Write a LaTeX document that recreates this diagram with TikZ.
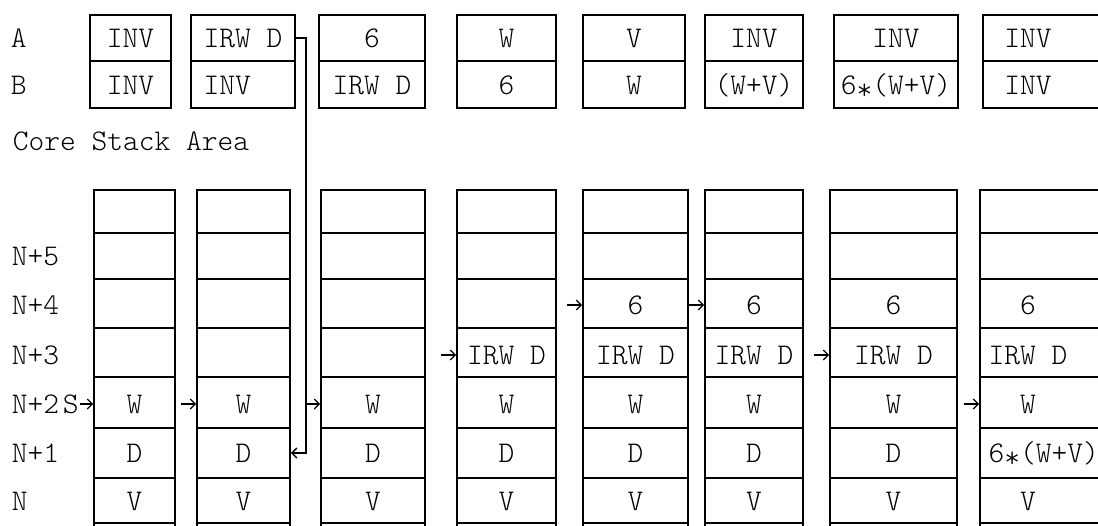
\documentclass[tikz,border=0pt]{standalone}
\usepackage{tikz}
\usetikzlibrary{calc, positioning, arrows.meta}

\newcommand{\mulsym}{\raisebox{-0.4ex}{*}}

\tikzset{
  cell/.style={inner sep=0pt, minimum height=20pt, text height=9pt, text depth=0pt},
  lbl/.style={inner sep=0pt, anchor=west, text height=9pt, text depth=0pt},
  ptr/.style={-{Straight Barb[length=2.5pt, width=5pt]}, line width=0.6pt},
}

\begin{document}
\begin{tikzpicture}[x=0.5pt, y=-0.5pt, line width=0.9pt, font=\fontsize{15}{18}\ttfamily\fontseries{l}\selectfont]
  \useasboundingbox (0,0) rectangle (1098,525);
  \clip (0,0) rectangle (1098,525);

  % registers A and B
  \node[lbl] (regA) at (10,38) {A};
  \node[lbl] (regB) at (10,85) {B};
  \foreach \l/\r/\e/\ta/\tb [count=\i] in {90/171/171/INV/INV, 191/295/295/IRW D/INV\phantom{ D}, 319/425/425/6/IRW D, 457/556/556/W/6, 583/685/685/V/W, 705/803/803/INV/(W+V), 834/958/958/INV/6\mulsym(W+V), 983/1073/1140/INV/INV} {
    \draw (\l,15) rectangle (\e,108);
    \draw (\l,61) -- (\e,61);
    \node[cell, minimum width=(\r-\l)*0.5pt] (a\i) at ({(\l+\r)/2},38) {\ta};
    \node[cell, minimum width=(\r-\l)*0.5pt] (b\i) at ({(\l+\r)/2},85) {\tb};
  }

  % core stack
  \node[lbl] (core) at (12,141) {Core Stack Area};
  \foreach \t/\y [count=\k from 0] in {N/501, N+1/453, N+2/404, N+3/355, N+4/305, N+5/256}
    \node[lbl] (r\k) at (11,\y) {\t};
  \node[lbl, right=1pt of r2] (sp) {S};

  \foreach \l/\r/\e/\cells [count=\i] in {94/175/175/{V,D,W}, 197/290/290/{V,D,W}, 321/425/425/{V,D,W}, 457/556/556/{V,D,W,IRW D}, 583/688/688/{V,D,W,IRW D,6}, 705/803/803/{V,D,W,IRW D,6}, 830/957/957/{V,D,W,IRW D,6}, 980/1076/1140/{V,\hphantom{66}6\mulsym(W+V),W,IRW D,6}} {
    \draw (\l,530) -- (\l,190) -- (\e,190) -- (\e,530);
    \foreach \y in {233,279,328,377,428,478,523}
      \draw (\l,\y) -- (\e,\y);
    \foreach \t [count=\k from 0] in \cells {
      \pgfmathsetmacro\yy{{501,453,404,355,305}[\k]}
      \node[cell, minimum width=(\r-\l)*0.5pt] (s\i-\k) at ({(\l+\r)/2},\yy) {\t};
    }
  }

  % IRW D moved from A into the stack
  \coordinate (jog) at ($(a2.east)+(10,0)$);
  \draw[ptr, line width=0.7pt] (a2.east) -- (jog) |- (s2-1.east);

  % stack pointer
  \draw[ptr] (sp.east) -- (s1-2.west);
  \foreach \j/\k in {2/2, 3/2, 4/3, 5/4, 6/4, 7/3, 8/2}
    \draw[ptr] ($(s\j-\k.west)+(-15,0)$) -- (s\j-\k.west);
\end{tikzpicture}
\end{document}
